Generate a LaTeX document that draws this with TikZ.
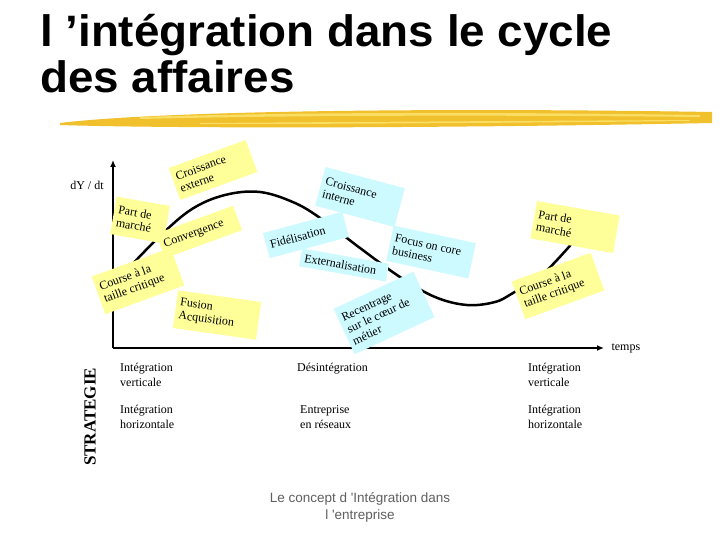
\documentclass[tikz,border=0pt]{standalone}
\usepackage{fontspec}
\setmainfont{Liberation Serif}
\newfontfamily\titlefont[FakeStretch=1.04]{Liberation Sans}
\newfontfamily\captionfont{Liberation Sans}
\definecolor{noteYellow}{RGB}{255,255,153}
\definecolor{noteCyan}{RGB}{204,250,255}
\definecolor{brushGold}{RGB}{240,192,45}
\definecolor{brushLight}{RGB}{250,222,100}
\definecolor{captionGray}{RGB}{95,95,95}
\usetikzlibrary{arrows.meta}

\begin{document}
\begin{tikzpicture}[x=1pt, y=-1pt,
  note/.style={rectangle, inner sep=4pt, align=flush left,
               font=\fontsize{12}{13}\selectfont},
  ynote/.style={note, fill=noteYellow},
  cnote/.style={note, fill=noteCyan},
  axis/.style={line width=2.5pt, -{Latex[length=7pt,width=6pt]}},
  curve/.style={line width=2.5pt, line cap=round},
  strat/.style={anchor=north west, inner sep=0pt, align=left,
                font=\fontsize{12}{15}\selectfont},
]
  \useasboundingbox[fill=white] (0,0) rectangle (720,540);

  % titre
  \node[anchor=north west, inner sep=0pt, align=left,
        font=\titlefont\bfseries\fontsize{44}{46}\selectfont] (title)
    at (40,14) {l ’intégration dans le cycle\\des affaires};
  \fill[brushGold] (60,123) .. controls (150,112) and (400,107) .. (712,112)
    -- (712,123) .. controls (400,129) and (150,128) .. (60,125) -- cycle;
  \fill[brushLight] (140,117) .. controls (300,112) and (500,112) .. (700,115)
    -- (700,117) .. controls (500,115) and (300,115) .. (140,119) -- cycle;
  \fill[brushLight] (200,123) .. controls (350,122) and (500,121) .. (690,120)
    -- (690,121) .. controls (500,123) and (350,124) .. (200,124) -- cycle;

  % axes
  \coordinate (origin) at (113,348);
  \coordinate (ytop) at (113,160);
  \coordinate (xend) at (604,348);
  \draw[axis] (origin) -- (ytop);
  \draw[axis] (origin) -- (xend);
  \node (dydt) at (87,185) {\fontsize{12}{14}\selectfont dY / dt};
  \node[right=0pt] (temps) at (608,348) {\fontsize{12}{14}\selectfont temps};

  % cycle
  \draw[curve] plot[smooth, tension=0.6] coordinates {(125,272) (160,236)
    (192,209) (225,195) (260,192) (295,203) (323,220) (360,248) (400,277)
    (435,297) (467,305) (495,302) (513,293) (542,275) (575,240)};

  % notes jaunes
  \node[ynote, rotate=20, text width=74pt, minimum height=34pt] (crext)
    at (213,170) {Croissance\\externe};
  \node[ynote, rotate=-10, text width=46pt, minimum height=38pt] (pdmL)
    at (140,220) {Part de\\marché};
  \node[ynote, rotate=20, text width=74pt, minimum height=26pt] (conv)
    at (199,232) {Convergence};
  \node[ynote, rotate=20, text width=76pt, minimum height=40pt] (courseL)
    at (138,281) {Course à la\\taille critique};
  \node[ynote, rotate=-8, text width=76pt, minimum height=38pt] (fusion)
    at (217,315) {Fusion\\Acquisition};
  \node[ynote, rotate=-10, text width=76pt, minimum height=38pt] (pdmR)
    at (575,227) {Part de\\marché};
  \node[ynote, rotate=20, text width=76pt, minimum height=40pt] (courseR)
    at (558,286) {Course à la\\taille critique};

  % notes bleues
  \node[cnote, rotate=-15, text width=74pt, minimum height=40pt] (crint)
    at (360,197) {Croissance\\interne};
  \node[cnote, rotate=15, text width=74pt, minimum height=26pt] (fidel)
    at (306,235) {Fidélisation};
  \node[cnote, rotate=-10, text width=80pt, minimum height=18pt] (extern)
    at (344,265) {Externalisation};
  \node[cnote, rotate=-12, text width=76pt, minimum height=36pt] (focus)
    at (431,252) {Focus on core\\business};
  \node[cnote, rotate=25, text width=80pt, minimum height=50pt] (recent)
    at (384,313) {Recentrage\\sur le cœur de\\métier};

  % strategie
  \node[rotate=90, font=\bfseries\fontsize{17}{19}\selectfont] (strategie)
    at (90,417) {STRATEGIE};
  \node[strat] (vertL) at (120,363) {Intégration\\verticale};
  \node[strat] (desint) at (297,363) {Désintégration};
  \node[strat] (vertR) at (528,363) {Intégration\\verticale};
  \node[strat] (horizL) at (120,405) {Intégration\\horizontale};
  \node[strat] (reseau) at (300,405) {Entreprise\\en réseaux};
  \node[strat] (horizR) at (528,405) {Intégration\\horizontale};

  \node[align=center, text=captionGray,
        font=\captionfont\fontsize{13.5}{17}\selectfont] (caption)
    at (360,507) {Le concept d 'Intégration dans\\l 'entreprise};
\end{tikzpicture}
\end{document}
